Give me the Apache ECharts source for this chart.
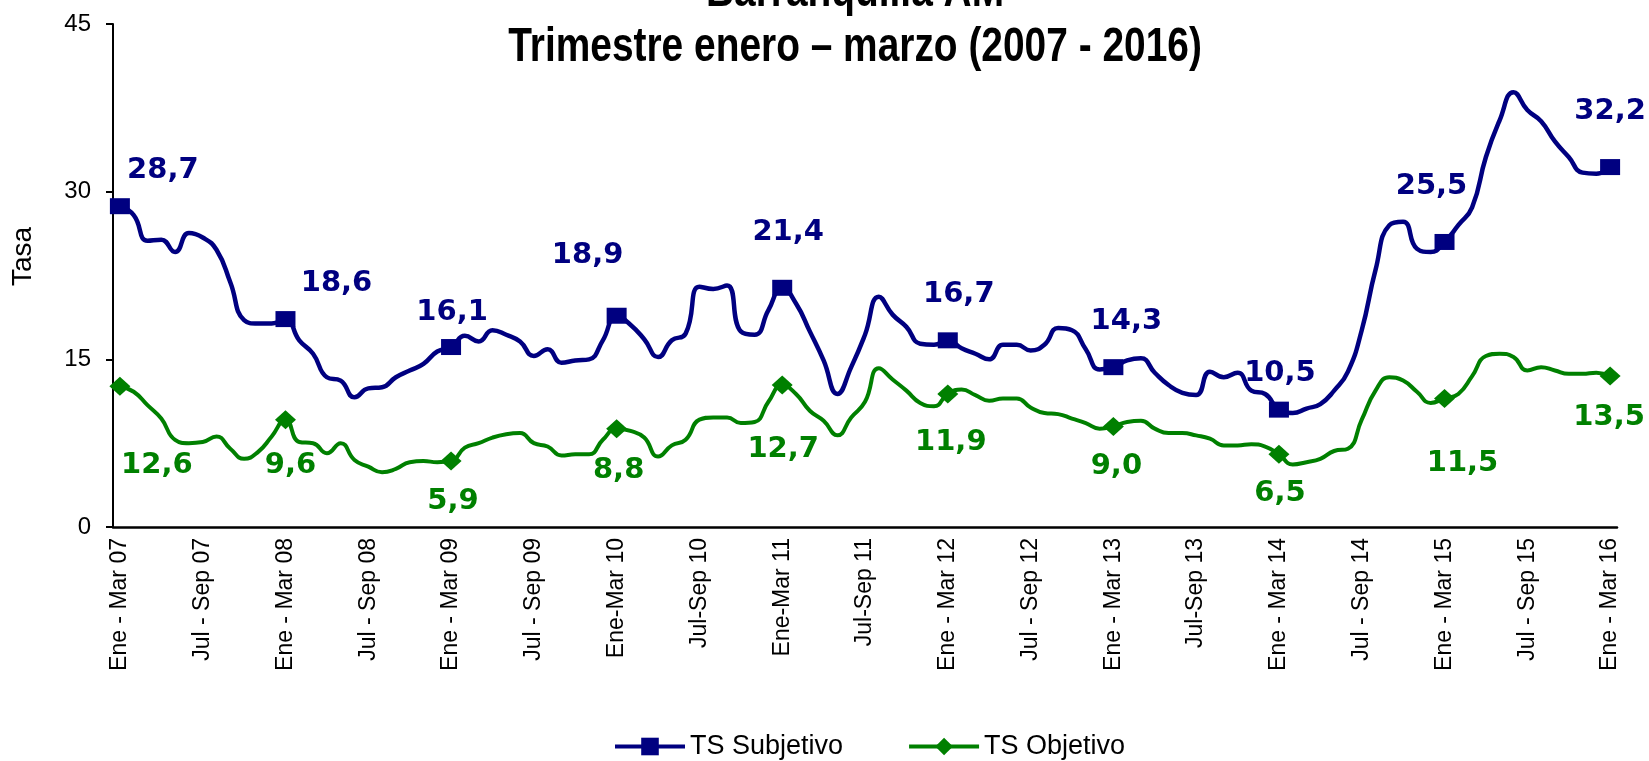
<!DOCTYPE html>
<html>
<head>
<meta charset="utf-8">
<script src="https://cdn.jsdelivr.net/npm/echarts@6/dist/echarts.min.js"></script>
<style>
  html, body { margin: 0; padding: 0; background: #fff; }
  #chart { width: 1649px; height: 761px; }
</style>
</head>
<body>
<div id="chart"></div>
<script>
// rolling quarters, monthly, Ene-Mar 07 .. Ene-Mar 16
const categories = [
  'Ene - Mar 07','Feb - Abr 07','Mar - May 07','Abr - Jun 07','May - Jul 07','Jun - Ago 07','Jul - Sep 07','Ago - Oct 07','Sep - Nov 07','Oct - Dic 07','Nov 07 - Ene 08','Dic 07 - Feb 08',
  'Ene - Mar 08','Feb - Abr 08','Mar - May 08','Abr - Jun 08','May - Jul 08','Jun - Ago 08','Jul - Sep 08','Ago - Oct 08','Sep - Nov 08','Oct - Dic 08','Nov 08 - Ene 09','Dic 08 - Feb 09',
  'Ene - Mar 09','Feb - Abr 09','Mar - May 09','Abr - Jun 09','May - Jul 09','Jun - Ago 09','Jul - Sep 09','Ago - Oct 09','Sep - Nov 09','Oct - Dic 09','Nov 09 - Ene 10','Dic 09 - Feb 10',
  'Ene-Mar 10','Feb-Abr 10','Mar-May 10','Abr-Jun 10','May-Jul 10','Jun-Ago 10','Jul-Sep 10','Ago-Oct 10','Sep-Nov 10','Oct-Dic 10','Nov 10-Ene 11','Dic 10-Feb 11',
  'Ene-Mar 11','Feb-Abr 11','Mar-May 11','Abr-Jun 11','May-Jul 11','Jun-Ago 11','Jul-Sep 11','Ago-Oct 11','Sep-Nov 11','Oct-Dic 11','Nov 11-Ene 12','Dic 11-Feb 12',
  'Ene - Mar 12','Feb - Abr 12','Mar - May 12','Abr - Jun 12','May - Jul 12','Jun - Ago 12','Jul - Sep 12','Ago - Oct 12','Sep - Nov 12','Oct - Dic 12','Nov 12 - Ene 13','Dic 12 - Feb 13',
  'Ene - Mar 13','Feb - Abr 13','Mar - May 13','Abr - Jun 13','May - Jul 13','Jun - Ago 13','Jul-Sep 13','Ago - Oct 13','Sep - Nov 13','Oct - Dic 13','Nov 13 - Ene 14','Dic 13 - Feb 14',
  'Ene - Mar 14','Feb - Abr 14','Mar - May 14','Abr - Jun 14','May - Jul 14','Jun - Ago 14','Jul - Sep 14','Ago - Oct 14','Sep - Nov 14','Oct - Dic 14','Nov 14 - Ene 15','Dic 14 - Feb 15',
  'Ene - Mar 15','Feb - Abr 15','Mar - May 15','Abr - Jun 15','May - Jul 15','Jun - Ago 15','Jul - Sep 15','Ago - Oct 15','Sep - Nov 15','Oct - Dic 15','Nov 15 - Ene 16','Dic 15 - Feb 16',
  'Ene - Mar 16'
];

const tsSubjetivo = [
  28.7, 27.9, 25.6, 25.7, 24.6, 26.3, 25.9, 24.8, 21.9, 18.5, 18.2, 18.2,
  18.6, 16.7, 15.5, 13.4, 13.1, 11.6, 12.4, 12.5, 13.4, 14.0, 14.6, 15.7,
  16.1, 17.1, 16.6, 17.6, 17.2, 16.6, 15.3, 15.9, 14.7, 14.9, 15.0, 16.7,
  18.9, 18.1, 16.8, 15.2, 16.7, 17.3, 21.5, 21.3, 21.6, 17.5, 17.2, 19.4,
  21.4, 20.0, 17.5, 14.9, 11.9, 14.3, 17.2, 20.6, 19.0, 17.9, 16.4, 16.3,
  16.7, 16.0, 15.5, 15.0, 16.3, 16.3, 15.8, 16.3, 17.8, 17.6, 15.9, 14.1,
  14.3, 14.9, 15.1, 13.8, 12.7, 12.0, 11.8, 13.9, 13.4, 13.8, 12.2, 11.9,
  10.5, 10.2, 10.6, 11.0, 12.2, 13.9, 17.6, 23.0, 27.0, 27.3, 24.9, 24.6,
  25.5, 27.0, 28.6, 33.1, 36.4, 38.9, 37.3, 36.3, 34.5, 33.1, 31.7, 31.6,
  32.2
];

const tsObjetivo = [
  12.6, 12.1, 10.9, 9.7, 7.8, 7.5, 7.6, 8.1, 7.0, 6.1, 6.7, 8.1,
  9.6, 7.6, 7.5, 6.6, 7.5, 6.0, 5.4, 4.9, 5.2, 5.8, 5.9, 5.8,
  5.9, 7.1, 7.5, 8.0, 8.3, 8.4, 7.5, 7.2, 6.4, 6.5, 6.5, 7.8,
  8.8, 8.6, 8.0, 6.3, 7.3, 7.8, 9.6, 9.8, 9.8, 9.3, 9.4, 11.2,
  12.7, 11.9, 10.4, 9.5, 8.2, 9.8, 11.2, 14.2, 13.2, 12.2, 11.1, 10.8,
  11.9, 12.3, 11.8, 11.3, 11.5, 11.5, 10.7, 10.2, 10.1, 9.7, 9.3, 8.8,
  9.0, 9.4, 9.5, 8.8, 8.4, 8.4, 8.2, 7.9, 7.3, 7.3, 7.4, 7.2,
  6.5, 5.6, 5.8, 6.1, 6.8, 7.0, 9.6, 12.2, 13.4, 13.1, 12.1, 11.1,
  11.5, 11.9, 13.5, 15.3, 15.5, 15.2, 14.0, 14.3, 14.0, 13.7, 13.7, 13.8,
  13.5
];

const yTicks = [0, 15, 30, 45];
const titleLines = ['Barranquilla AM', 'Trimestre enero – marzo (2007 - 2016)'];

// label nudges for the Ene-Mar points (one per year), in px
const subjOffsets = [[43,-36],[51,-36],[1,-35],[-29,-60],[6,-55],[11,-46],[13,-46],[1,-36],[-13,-55],[0,-56]];
const objOffsets  = [[37,79],[5,46],[2,40],[2,42],[1,64],[3,48],[3,40],[1,39],[18,65],[-1,41]];

const BLUE = '#000080';
const GREEN = '#008000';
const SANS = "'Liberation Sans', Arial, sans-serif";

function buildData(values, offsets) {
  return values.map((v, i) => {
    if (i % 12 !== 0) return { value: v, symbol: 'none' };
    return {
      value: v,
      label: {
        show: true,
        position: 'inside',
        offset: offsets[i / 12],
        formatter: v.toFixed(1).replace('.', ',')
      }
    };
  });
}

// no narrow font installed, so the title is squeezed horizontally
function titleText(str, baseline) {
  return {
    type: 'text',
    x: 855,
    y: baseline - 16,
    scaleX: 0.81,
    silent: true,
    style: {
      text: str,
      x: 0,
      y: 0,
      align: 'center',
      verticalAlign: 'middle',
      font: 'bold 48px ' + SANS,
      fill: '#000'
    }
  };
}

const chart = echarts.init(document.getElementById('chart'), null, { renderer: 'canvas' });

chart.setOption({
  animation: false,
  backgroundColor: '#fff',
  graphic: [titleText(titleLines[0], 9), titleText(titleLines[1], 64)],
  legend: {
    left: 613,
    top: 733,
    padding: 0,
    itemWidth: 70,
    itemHeight: 22,
    itemGap: 64,
    lineStyle: { width: 4 },
    textStyle: { fontFamily: SANS, fontSize: 27, color: '#000' },
    data: ['TS Subjetivo', 'TS Objetivo']
  },
  grid: { left: 113, right: 32, top: 24, bottom: 234, outerBoundsMode: 'none' },
  xAxis: {
    type: 'category',
    data: categories,
    boundaryGap: true,
    axisLine: { lineStyle: { color: '#000', width: 2.5 } },
    axisTick: { interval: 7, length: 6, lineStyle: { color: '#000', width: 2 } },
    axisLabel: {
      interval: 5,
      rotate: 90,
      margin: 11,
      fontFamily: SANS,
      fontSize: 23,
      color: '#000'
    },
    splitLine: { show: false }
  },
  yAxis: {
    type: 'value',
    min: yTicks[0],
    max: yTicks[yTicks.length - 1],
    interval: 15,
    name: 'Tasa',
    nameLocation: 'middle',
    nameGap: 76,
    nameTextStyle: {
      fontFamily: SANS,
      fontSize: 28,
      color: '#000',
      padding: [0, 0, 0, 38]
    },
    axisLine: { show: true, lineStyle: { color: '#000', width: 2 } },
    axisTick: { show: true, length: 7, lineStyle: { color: '#000', width: 2 } },
    axisLabel: {
      margin: 22,
      fontFamily: SANS,
      fontSize: 24,
      color: '#000'
    },
    splitLine: { show: false }
  },
  series: [
    {
      name: 'TS Subjetivo',
      type: 'line',
      smooth: true,
      showAllSymbol: true,
      symbol: 'rect',
      symbolSize: [20, 16],
      data: buildData(tsSubjetivo, subjOffsets),
      lineStyle: { color: BLUE, width: 4.5 },
      itemStyle: { color: BLUE },
      label: {
        color: BLUE,
        fontFamily: "'DejaVu Sans', Verdana, sans-serif",
        fontWeight: 'bold',
        fontSize: 29
      },
      z: 3
    },
    {
      name: 'TS Objetivo',
      type: 'line',
      smooth: true,
      showAllSymbol: true,
      symbol: 'diamond',
      symbolSize: [21, 19],
      data: buildData(tsObjetivo, objOffsets),
      lineStyle: { color: GREEN, width: 4 },
      itemStyle: { color: GREEN },
      label: {
        color: GREEN,
        fontFamily: "'DejaVu Sans', Verdana, sans-serif",
        fontWeight: 'bold',
        fontSize: 29
      },
      z: 2
    }
  ]
});
</script>
</body>
</html>
